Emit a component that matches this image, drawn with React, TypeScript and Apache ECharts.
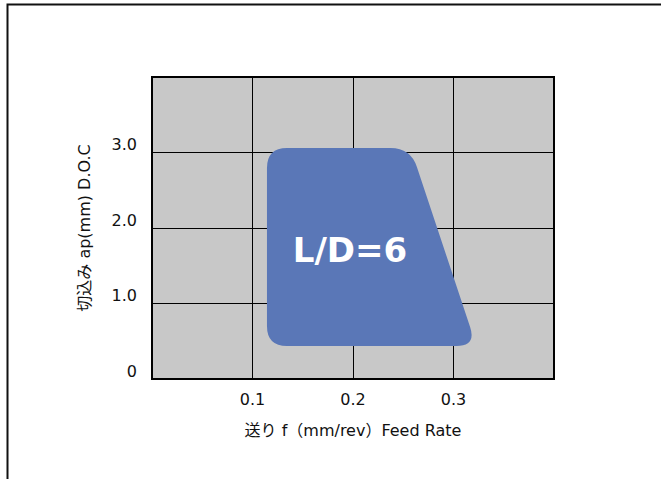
import React, { useEffect, useRef } from "react";
import * as echarts from "echarts";

// Axes
const X_MIN = 0;
const X_MAX = 0.4;
const X_INTERVAL = 0.1;
const Y_MIN = 0;
const Y_MAX = 4;
const Y_INTERVAL = 1;

const X_NAME = "送り f（mm/rev）Feed Rate";
const Y_NAME = "切込み ap(mm) D.O.C";

// Recommended cutting region (corners, clockwise from top-left)
const regionX = [0.1144, 0.2573, 0.3228, 0.1144];
const regionY = [3.06, 3.06, 0.437, 0.437];
const regionLabel = "L/D=6";
const labelPos = [0.197, 1.71];

const FONT = '"DejaVu Sans", "Noto Sans CJK JP", sans-serif';

function roundedPath(pts: number[][], r: number): string {
  const n = pts.length;
  let d = "";
  for (let i = 0; i < n; i++) {
    const p = pts[i];
    const prev = pts[(i - 1 + n) % n];
    const next = pts[(i + 1) % n];
    const v1 = [prev[0] - p[0], prev[1] - p[1]];
    const v2 = [next[0] - p[0], next[1] - p[1]];
    const l1 = Math.hypot(v1[0], v1[1]);
    const l2 = Math.hypot(v2[0], v2[1]);
    const a = [p[0] + (v1[0] / l1) * r, p[1] + (v1[1] / l1) * r];
    const b = [p[0] + (v2[0] / l2) * r, p[1] + (v2[1] / l2) * r];
    d += (i === 0 ? "M" : "L") + a[0] + " " + a[1] + " ";
    d += "Q" + p[0] + " " + p[1] + " " + b[0] + " " + b[1] + " ";
  }
  return d + "Z";
}

export default function App() {
  const ref = useRef<HTMLDivElement>(null);
  useEffect(() => {
    if (!ref.current) return;
    const chart = echarts.init(ref.current, undefined, { renderer: "svg" });
    const fmt = (v: number) => (Math.abs(v) < 1e-9 ? "0" : v.toFixed(1));
    chart.setOption({
      animation: false,
      backgroundColor: "#ffffff",
      grid: {
        left: 152,
        top: 77,
        width: 402,
        height: 302,
        show: true,
        backgroundColor: "#c8c8c8",
        borderColor: "#000000",
        borderWidth: 2,
        containLabel: false,
      },
      xAxis: {
        type: "value",
        min: X_MIN,
        max: X_MAX,
        interval: X_INTERVAL,
        name: X_NAME,
        nameLocation: "middle",
        nameGap: 43,
        nameTextStyle: { fontFamily: FONT, fontSize: 16, color: "#111" },
        axisLine: { show: false },
        axisTick: { show: false },
        splitLine: { show: true, lineStyle: { color: "#000", width: 1 } },
        axisLabel: {
          showMinLabel: false,
          showMaxLabel: false,
          margin: 12,
          fontFamily: FONT,
          fontSize: 16,
          color: "#111",
          formatter: fmt,
        },
      },
      yAxis: {
        type: "value",
        min: Y_MIN,
        max: Y_MAX,
        interval: Y_INTERVAL,
        name: Y_NAME,
        nameLocation: "middle",
        nameRotate: 90,
        nameGap: 60,
        nameTextStyle: { fontFamily: FONT, fontSize: 16, color: "#111" },
        axisLine: { show: false },
        axisTick: { show: false },
        splitLine: { show: true, lineStyle: { color: "#000", width: 1 } },
        axisLabel: {
          showMaxLabel: false,
          margin: 15,
          verticalAlign: "bottom",
          fontFamily: FONT,
          fontSize: 16,
          color: "#111",
          formatter: fmt,
        },
      },
      graphic: [
        {
          type: "polyline",
          shape: { points: [[7.5, 479], [7.5, 4.5], [661, 4.5]] },
          style: { stroke: "#111", lineWidth: 2, fill: null },
          z: 100,
        },
      ],
      series: [
        {
          type: "custom",
          coordinateSystem: "cartesian2d",
          data: [labelPos],
          encode: { x: 0, y: 1 },
          renderItem: (params: any, api: any) => {
            const pts = regionX.map((x, i) => api.coord([x, regionY[i]]));
            const c = api.coord(labelPos);
            return {
              type: "group",
              children: [
                {
                  type: "path",
                  shape: { pathData: roundedPath(pts, 20) },
                  style: { fill: "#5a77b7", stroke: null },
                },
                {
                  type: "text",
                  style: {
                    text: regionLabel,
                    x: c[0],
                    y: c[1],
                    fill: "#ffffff",
                    font: 'bold 34px "DejaVu Sans", sans-serif',
                    align: "center",
                    verticalAlign: "middle",
                  },
                },
              ],
            };
          },
        },
      ],
    });
    return () => chart.dispose();
  }, []);
  return (
    <div
      ref={ref}
      style={{ position: "fixed", left: 0, top: 0, width: 661, height: 479 }}
    />
  );
}
